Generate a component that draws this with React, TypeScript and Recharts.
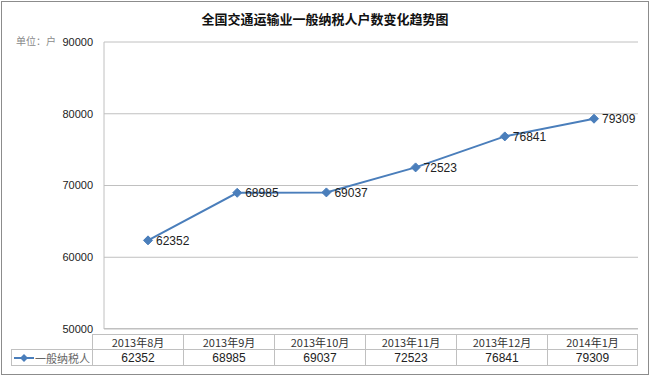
import { LineChart, Line, XAxis, YAxis, CartesianGrid, LabelList } from "recharts";

const months = ["2013年8月", "2013年9月", "2013年10月", "2013年11月", "2013年12月", "2014年1月"];
const taxpayers = [62352, 68985, 69037, 72523, 76841, 79309];
const yTicks = [50000, 60000, 70000, 80000, 90000];
const seriesName = "一般纳税人";

const data = months.map((m, i) => ({ month: m, value: taxpayers[i] }));

const BLUE = "#4a7ebb";
const GRID = "#c0c0c0";
const FONT = "'Liberation Sans', Arial, sans-serif";
const CJK = "'Noto Sans CJK SC', sans-serif";

const Diamond = (props: any) => {
  const { cx, cy } = props;
  if (cx == null || cy == null) return null;
  const r = 4.5;
  return (
    <polygon
      points={`${cx},${cy - r} ${cx + r},${cy} ${cx},${cy + r} ${cx - r},${cy}`}
      fill={BLUE}
      stroke={BLUE}
    />
  );
};

export default function App() {
  const tableLeft = 92;
  const tableRight = 638;
  const colW = (tableRight - tableLeft) / months.length;
  const cellBorder = `1px solid ${GRID}`;

  return (
    <div style={{ position: "absolute", left: 0, top: 0, width: 650, height: 377, background: "#fff" }}>
      <div
        style={{
          position: "absolute",
          left: 1,
          top: 1,
          width: 646,
          height: 372,
          border: "1px solid #8c8c8c",
        }}
      />
      <div
        style={{
          position: "absolute",
          left: 0,
          top: 9,
          width: 650,
          textAlign: "center",
          fontFamily: CJK,
          fontWeight: "bold",
          fontSize: 13,
          color: "#111",
          whiteSpace: "nowrap",
        }}
      >
        全国交通运输业一般纳税人户数变化趋势图
      </div>
      <div
        style={{
          position: "absolute",
          left: 16,
          top: 33,
          fontFamily: CJK,
          fontSize: 10,
          color: "#8a8a8a",
          whiteSpace: "nowrap",
        }}
      >
        单位：户
      </div>

      <div style={{ position: "absolute", left: 0, top: 0 }}>
        <LineChart
          width={650}
          height={377}
          data={data}
          margin={{ top: 42, right: 12, bottom: 48, left: 0 }}
        >
          <CartesianGrid vertical={false} stroke={GRID} />
          <XAxis dataKey="month" hide padding={{ left: 44, right: 44 }} />
          <YAxis
            domain={[50000, 90000]}
            ticks={yTicks}
            width={104}
            tickLine={false}
            tickSize={0}
            tickMargin={11}
            axisLine={{ stroke: GRID }}
            tick={{ fontSize: 11, fill: "#222", fontFamily: FONT }}
            interval={0}
          />
          <Line
            dataKey="value"
            stroke={BLUE}
            strokeWidth={2}
            dot={<Diamond />}
            activeDot={false}
            isAnimationActive={false}
          >
            <LabelList
              dataKey="value"
              position="right"
              offset={8}
              style={{ fontSize: 12, fill: "#222", fontFamily: FONT }}
            />
          </Line>
        </LineChart>
      </div>

      {/* bottom axis line */}
      <div style={{ position: "absolute", left: 104, top: 328, width: 534, height: 1, background: GRID }} />

      {/* data table */}
      {months.map((m, i) => (
        <div
          key={`h-${i}`}
          style={{
            position: "absolute",
            left: tableLeft + i * colW,
            top: 334,
            width: colW,
            height: 15,
            boxSizing: "border-box",
            borderTop: cellBorder,
            borderLeft: cellBorder,
            borderRight: i === months.length - 1 ? cellBorder : undefined,
            fontFamily: CJK,
            fontSize: 11,
            lineHeight: "14px",
            textAlign: "center",
            color: "#333",
            whiteSpace: "nowrap",
          }}
        >
          {m}
        </div>
      ))}
      <div
        style={{
          position: "absolute",
          left: 11,
          top: 349,
          width: tableLeft - 11,
          height: 17,
          boxSizing: "border-box",
          borderTop: cellBorder,
          borderLeft: cellBorder,
          borderBottom: cellBorder,
          display: "flex",
          alignItems: "center",
          fontFamily: CJK,
          fontSize: 11,
          color: "#666",
          whiteSpace: "nowrap",
        }}
      >
        <svg width={20} height={10} style={{ marginLeft: 2, marginRight: 1, flexShrink: 0 }}>
          <line x1={0} y1={5} x2={20} y2={5} stroke={BLUE} strokeWidth={2} />
          <polygon points="10,1 14,5 10,9 6,5" fill={BLUE} />
        </svg>
        {seriesName}
      </div>
      {taxpayers.map((v, i) => (
        <div
          key={`v-${i}`}
          style={{
            position: "absolute",
            left: tableLeft + i * colW,
            top: 349,
            width: colW,
            height: 17,
            boxSizing: "border-box",
            borderTop: cellBorder,
            borderLeft: cellBorder,
            borderBottom: cellBorder,
            borderRight: i === taxpayers.length - 1 ? cellBorder : undefined,
            fontFamily: FONT,
            fontSize: 12,
            lineHeight: "16px",
            textAlign: "center",
            color: "#222",
          }}
        >
          {v}
        </div>
      ))}
    </div>
  );
}
